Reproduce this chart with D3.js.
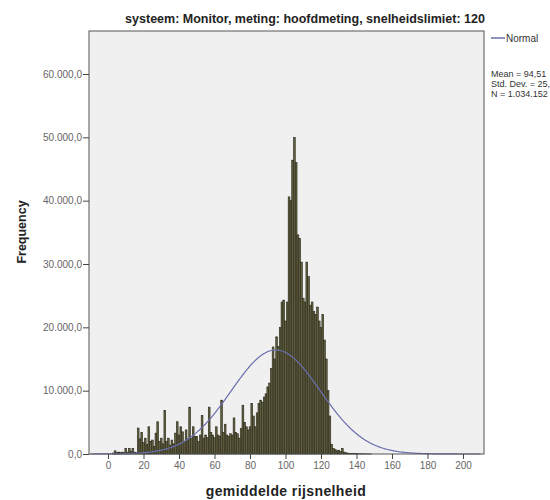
<!DOCTYPE html>
<html lang="nl">
<head>
<meta charset="utf-8">
<title>Histogram gemiddelde rijsnelheid</title>
<script src="https://d3js.org/d3.v7.min.js"></script>
<style>
  body { margin: 0; background: #fff; }
  text { font-family: "Liberation Sans", Arial, sans-serif; }
</style>
</head>
<body>
<script>
// chart data (bin width 1 km/h, bin centred on its value)
const binStart = 0;
const counts = [
  0, 0, 0, 150, 500, 200, 300, 250, 300, 200,
  900, 300, 900, 400, 900, 300, 200, 4100, 2400, 3400,
  1800, 2500, 1500, 4300, 2000, 2200, 1200, 3300, 5100, 2000,
  2500, 1600, 6900, 2000, 2500, 1400, 2200, 1600, 3300, 5100,
  3000, 4300, 3500, 2000, 3800, 2400, 7400, 2500, 4300, 2800,
  2800, 2000, 3000, 6100, 2500, 3000, 2600, 7400, 3400, 3000,
  2600, 4300, 3000, 2800, 8500, 3400, 4700, 3000, 2800, 3200,
  3000, 5700, 3400, 3200, 2500, 4000, 7700, 5000, 4300, 3800,
  4300, 8000, 6000, 4300, 6500, 8000, 8500, 8200, 9000, 9500,
  10600, 11200, 13500, 16900, 15000, 18500, 17000, 20000, 24000, 24300,
  21000, 24000, 40600, 40000, 46400, 50000, 46000, 34600, 34000, 30300,
  24600, 24000, 30300, 28000, 23500, 24000, 22500, 22000, 23200, 21000,
  20000, 22000, 18000, 15000, 10000, 6000, 1500, 900, 700, 500,
  600, 400, 900, 300, 200, 150, 100, 100, 80, 60,
  50, 40, 30, 30, 20, 20, 10, 10, 10, 0
];
const xTicks = [0, 20, 40, 60, 80, 100, 120, 140, 160, 180, 200];
const yTicks = [0, 10000, 20000, 30000, 40000, 50000, 60000];
const statMean = 94.51;
const statSd = 25.12;
const statN = 1034152;
const binWidth = 1;

const titleText = "systeem: Monitor, meting: hoofdmeting, snelheidslimiet: 120";
const statLines = ["Mean = 94,51", "Std. Dev. = 25,12", "N = 1.034.152"];

const width = 550, height = 500;
const frame = { left: 89, right: 484, top: 31, bottom: 454 };

const nl = d3.formatLocale({ decimal: ",", thousands: ".", grouping: [3], currency: ["€", ""] });
const fmtY = nl.format(",.1f");

const x = d3.scaleLinear().domain([0, 200]).range([108, 463]);
const y = d3.scaleLinear().domain([0, 60000]).range([454, 74]);

const svg = d3.select("body").append("svg")
  .attr("width", width)
  .attr("height", height);

// plot background
svg.append("rect")
  .attr("x", frame.left).attr("y", frame.top)
  .attr("width", frame.right - frame.left)
  .attr("height", frame.bottom - frame.top)
  .attr("fill", "#f0f0f0");

// bars
svg.append("g").selectAll("rect")
  .data(counts.map((c, i) => ({ v: binStart + i, c: c })).filter(d => d.c > 0))
  .join("rect")
  .attr("x", d => x(d.v - binWidth / 2))
  .attr("y", d => y(d.c))
  .attr("width", d => x(d.v + binWidth / 2) - x(d.v - binWidth / 2))
  .attr("height", d => y(0) - y(d.c))
  .attr("fill", "#63603f")
  .attr("stroke", "#29281b")
  .attr("stroke-width", 0.6);

// normal curve from the reported mean / sd / N
const curveX = d3.range(-10, 210.5, 0.5);
const normal = v => statN * binWidth / (statSd * Math.sqrt(2 * Math.PI)) *
  Math.exp(-0.5 * Math.pow((v - statMean) / statSd, 2));
svg.append("path")
  .datum(curveX)
  .attr("fill", "none")
  .attr("stroke", "#6a6fae")
  .attr("stroke-width", 1.2)
  .attr("d", d3.line().x(d => x(d)).y(d => y(normal(d))));

// frame
svg.append("rect")
  .attr("x", frame.left).attr("y", frame.top)
  .attr("width", frame.right - frame.left)
  .attr("height", frame.bottom - frame.top)
  .attr("fill", "none")
  .attr("stroke", "#555")
  .attr("stroke-width", 1);

// axes
const xAxis = svg.append("g")
  .attr("transform", "translate(0," + frame.bottom + ")")
  .call(d3.axisBottom(x).tickValues(xTicks).tickSize(5).tickPadding(3).tickSizeOuter(0));
const yAxis = svg.append("g")
  .attr("transform", "translate(" + frame.left + ",0)")
  .call(d3.axisLeft(y).tickValues(yTicks).tickFormat(fmtY).tickSize(6).tickPadding(1).tickSizeOuter(0));

[xAxis, yAxis].forEach(g => {
  g.select(".domain").remove();
  g.selectAll(".tick line").attr("stroke", "#444");
  g.selectAll(".tick text")
    .attr("fill", "#666")
    .style("font-size", "10px")
    .style("font-family", "'Liberation Sans', Arial, sans-serif");
});

// titles
svg.append("text")
  .attr("x", 305).attr("y", 23)
  .attr("text-anchor", "middle")
  .attr("font-weight", "bold")
  .attr("font-size", "12.5px")
  .attr("fill", "#222")
  .text(titleText);

svg.append("text")
  .attr("x", 286).attr("y", 496)
  .attr("text-anchor", "middle")
  .attr("font-weight", "bold")
  .attr("font-size", "14px")
  .attr("letter-spacing", "0.4px")
  .attr("fill", "#222")
  .text("gemiddelde rijsnelheid");

svg.append("text")
  .attr("transform", "translate(26,232) rotate(-90)")
  .attr("text-anchor", "middle")
  .attr("font-weight", "bold")
  .attr("font-size", "12.5px")
  .attr("fill", "#222")
  .text("Frequency");

// legend
svg.append("line")
  .attr("x1", 491).attr("x2", 505)
  .attr("y1", 38).attr("y2", 38)
  .attr("stroke", "#6a6fae")
  .attr("stroke-width", 1.5);
svg.append("text")
  .attr("x", 506).attr("y", 41.5)
  .attr("font-size", "10px")
  .attr("fill", "#333")
  .text("Normal");

// fit statistics (run past the right edge, as in the original)
svg.append("g").selectAll("text")
  .data(statLines)
  .join("text")
  .attr("x", 491)
  .attr("y", (d, i) => 77 + i * 10)
  .attr("font-size", "9px")
  .attr("fill", "#333")
  .text(d => d);
</script>
</body>
</html>
